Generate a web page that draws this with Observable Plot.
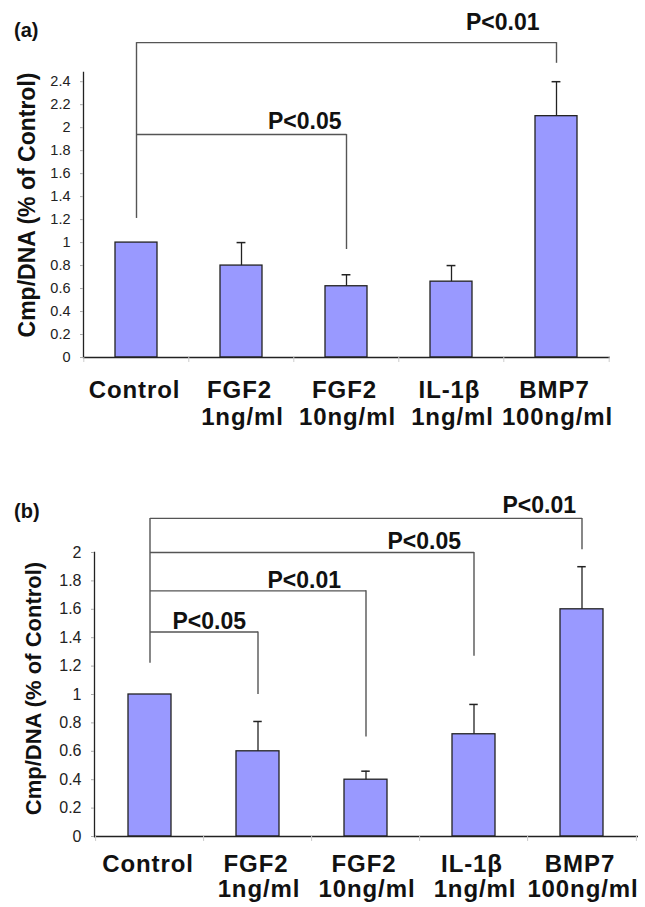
<!DOCTYPE html>
<html>
<head>
<meta charset="utf-8">
<script src="https://cdn.jsdelivr.net/npm/d3@7"></script>
<script src="https://cdn.jsdelivr.net/npm/@observablehq/plot@0.6"></script>
<style>
  body { margin: 0; background: #fff; font-family: "Liberation Sans", Arial, sans-serif; }
  #page { position: relative; width: 645px; height: 907px; overflow: hidden; }
  .panel { position: absolute; left: 0; }
  .tag { position: absolute; left: 14px; font-weight: bold; font-size: 20px; color: #111; line-height: 1; }
  g[font-size="24"] { letter-spacing: 0.9px; }
</style>
</head>
<body>
<div id="page">
  <div class="panel" id="panelA" style="top:0px"></div>
  <div class="panel" id="panelB" style="top:440px"></div>
  <div class="tag" style="top:20px">(a)</div>
  <div class="tag" style="top:501px">(b)</div>
</div>
<script>
// ---------- data ----------
const categories = ["Control", "FGF2 1ng/ml", "FGF2 10ng/ml", "IL-1β 1ng/ml", "BMP7 100ng/ml"];
const labelLine1 = ["Control", "FGF2", "FGF2", "IL-1β", "BMP7"];
const labelLine2 = ["", "1ng/ml", "10ng/ml", "1ng/ml", "100ng/ml"];
const yLabel = "Cmp/DNA (% of Control)";

// panel (a)
const valuesA = [1.0, 0.80, 0.62, 0.66, 2.1];
const errorsA = [0, 0.20, 0.10, 0.14, 0.30];
const yTicksA = [0, 0.2, 0.4, 0.6, 0.8, 1, 1.2, 1.4, 1.6, 1.8, 2, 2.2, 2.4];
const bracketTargetsA = ["BMP7 100ng/ml", "FGF2 10ng/ml"];
const bracketLabelsA = ["P<0.01", "P<0.05"];
const bracketHeightA = [2.74, 1.94];
const bracketEndA = [2.56, 0.94];
const bracketTextYA = [2.91, 2.05];
const bracketStartA = 1.21;

// panel (b)
const valuesB = [1.0, 0.60, 0.40, 0.72, 1.6];
const errorsB = [0, 0.21, 0.06, 0.21, 0.30];
const yTicksB = [0, 0.2, 0.4, 0.6, 0.8, 1, 1.2, 1.4, 1.6, 1.8, 2];
const bracketTargetsB = ["BMP7 100ng/ml", "IL-1β 1ng/ml", "FGF2 10ng/ml", "FGF2 1ng/ml"];
const bracketLabelsB = ["P<0.01", "P<0.05", "P<0.01", "P<0.05"];
const bracketHeightB = [2.24, 2.0, 1.73, 1.44];
const bracketEndB = [2.02, 1.27, 0.70, 1.0];
const bracketTextYB = [2.33, 2.08, 1.80, 1.51];
const bracketStartB = 1.22;

// ---------- styling ----------
const FONT = "'Liberation Sans', Arial, Helvetica, sans-serif";
const BAR_FILL = "#9999ff";
const INK = "#222";
const BRACKET = "#555";

function makePanel(cfg) {
  const rows = categories.map((c, i) => ({
    cat: c, line1: labelLine1[i], line2: labelLine2[i],
    value: cfg.values[i], err: cfg.errors[i], top: cfg.values[i] + cfg.errors[i]
  }));
  const withErr = rows.filter(d => d.err > 0);
  const brackets = cfg.targets.map((t, i) => ({
    target: t, label: cfg.labels[i], h: cfg.heights[i], end: cfg.ends[i], ly: cfg.textY[i]
  }));
  const maxH = d3.max(cfg.heights);
  const step = (cfg.width - cfg.ml - cfg.mr) / categories.length;
  const bandW = step * 0.4;
  const capW = 9;
  const catText = { fontSize: 24, fontWeight: "bold", fill: "#111", textAnchor: "middle", lineAnchor: "middle", frameAnchor: "bottom" };

  return Plot.plot({
    width: cfg.width,
    height: cfg.height,
    marginLeft: cfg.ml,
    marginRight: cfg.mr,
    marginTop: cfg.mt,
    marginBottom: cfg.mb,
    style: { fontFamily: FONT, background: "#fff", overflow: "visible" },
    x: { domain: categories, paddingInner: 0.6, paddingOuter: 0.3 },
    y: { domain: cfg.yDomain },
    marks: [
      Plot.barY(rows, { x: "cat", y: "value", fill: BAR_FILL, stroke: INK, strokeWidth: 1.3 }),
      Plot.ruleX(withErr, { x: "cat", y1: "value", y2: "top", stroke: INK, strokeWidth: 1.3 }),
      Plot.tickY(withErr, { x: "cat", y: "top", stroke: INK, strokeWidth: 1.5,
        insetLeft: (bandW - capW) / 2, insetRight: (bandW - capW) / 2 }),
      // axes
      Plot.ruleY([0], { stroke: INK, strokeWidth: 1.3 }),
      Plot.frame({ anchor: "left", stroke: INK, strokeWidth: 1.3 }),
      Plot.axisY({ ticks: cfg.yTicks, tickFormat: d => String(d), tickSize: 3, tickPadding: cfg.tickPad,
        fontSize: cfg.tickFont, fill: "#222", stroke: "#aaa", label: null }),
      Plot.axisX({ ticks: categories, tickFormat: () => "", tickSize: 5, dx: -step / 2, stroke: "#ccc", label: null }),
      Plot.axisX({ ticks: [categories[categories.length - 1]], tickFormat: () => "", tickSize: 5, dx: step / 2, stroke: "#ccc", label: null }),
      // category labels (two lines)
      Plot.text(rows, { x: "cat", text: "line1", dy: cfg.line1dy, dx: -2, ...catText }),
      Plot.text(rows, { x: "cat", text: "line2", dy: cfg.line2dy, dx: 1, ...catText }),
      // y label
      Plot.text([yLabel], { text: d => d, frameAnchor: "left", textAnchor: "middle", lineAnchor: "middle",
        rotate: -90, dx: cfg.ylabelDx, dy: cfg.ylabelDy,
        fontSize: cfg.ylabelFont, fontWeight: "bold", fill: "#111" }),
      // significance brackets
      Plot.ruleX([{ x: categories[0], y1: cfg.start, y2: maxH }], { x: "x", y1: "y1", y2: "y2", stroke: BRACKET, strokeWidth: 1.4 }),
      Plot.link(brackets, { x1: () => categories[0], x2: "target", y1: "h", y2: "h", stroke: BRACKET, strokeWidth: 1.4 }),
      Plot.ruleX(brackets, { x: "target", y1: "h", y2: "end", stroke: BRACKET, strokeWidth: 1.4 }),
      ...brackets.map((b, i) => Plot.text([b], { x: "target", y: "ly", text: "label", textAnchor: "end",
        dx: cfg.labelDx[i], fontSize: 23, fontWeight: "bold", fill: "#111" }))
    ]
  });
}

document.getElementById("panelA").append(makePanel({
  values: valuesA, errors: errorsA, yTicks: yTicksA, yDomain: [0, 2.48],
  targets: bracketTargetsA, labels: bracketLabelsA, heights: bracketHeightA, ends: bracketEndA,
  textY: bracketTextYA, start: bracketStartA, labelDx: [-17, -5],
  width: 645, height: 440, ml: 83, mr: 35, mt: 72, mb: 83,
  tickPad: 10, tickFont: 14.5, line1dy: 33, line2dy: 60,
  ylabelDx: -56, ylabelDy: -10, ylabelFont: 23
}));

document.getElementById("panelB").append(makePanel({
  values: valuesB, errors: errorsB, yTicks: yTicksB, yDomain: [0, 2],
  targets: bracketTargetsB, labels: bracketLabelsB, heights: bracketHeightB, ends: bracketEndB,
  textY: bracketTextYB, start: bracketStartB, labelDx: [-6, -13, -25, -12],
  width: 645, height: 467, ml: 94, mr: 7, mt: 112, mb: 71,
  tickPad: 10, tickFont: 16, line1dy: 28, line2dy: 53,
  ylabelDx: -61, ylabelDy: -6, ylabelFont: 22
}));
</script>
</body>
</html>
